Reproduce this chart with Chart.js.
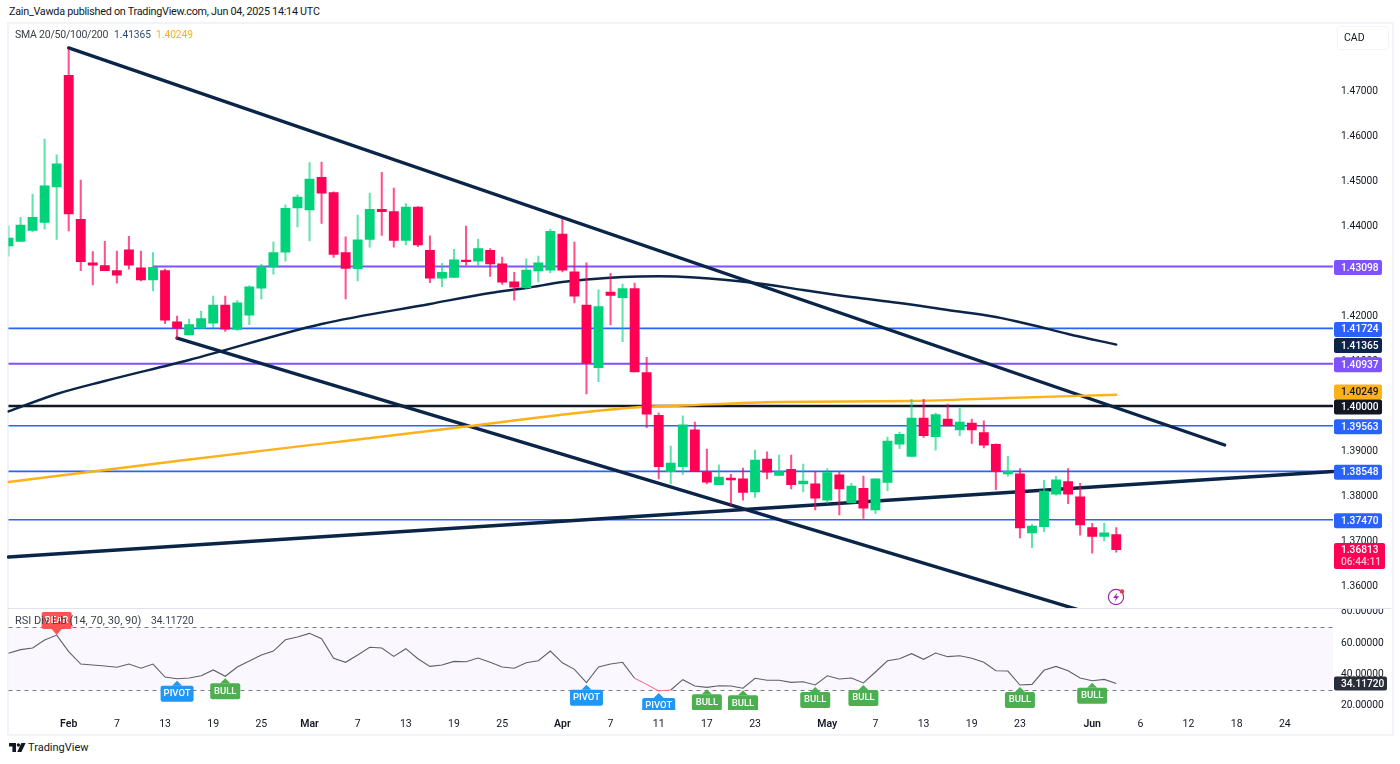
<!DOCTYPE html>
<html>
<head>
<meta charset="utf-8">
<script src="https://cdn.jsdelivr.net/npm/chart.js@4"></script>
<style>
html,body{margin:0;padding:0;background:#fff;width:1400px;height:764px;overflow:hidden;font-family:Roboto,sans-serif;color:#131722}
canvas{position:absolute;display:block}
.frame{position:absolute;left:7px;top:22px;width:1383px;height:710px;border:2px solid #f0f3fa;box-sizing:content-box}
.sep{position:absolute;left:8px;top:608px;width:1383px;height:1px;background:#e0e3eb}
.t{position:absolute;white-space:pre;font-size:10.5px;line-height:14px}
</style>
</head>
<body>
<div class="frame"></div>
<canvas id="price" style="left:0;top:23px"></canvas>
<canvas id="rsi" style="left:0;top:609px"></canvas>
<div class="sep"></div>
<div class="t" style="left:9px;top:5px;font-size:10.8px;letter-spacing:-.26px;color:#131722">Zain_Vawda published on TradingView.com, Jun 04, 2025 14:14 UTC</div>
<div class="t" style="left:15px;top:28px;letter-spacing:-.22px;color:#3b3f4a">SMA 20/50/100/200</div>
<div class="t" style="left:114px;top:28px;font-size:10.2px;color:#2b4a78">1.41365</div>
<div class="t" style="left:156px;top:28px;font-size:10.2px;color:#ffb11a">1.40249</div>
<div class="t" style="left:15px;top:614px;font-size:11px;color:#3b3f4a">RSI Div Lib (14, 70, 30, 90)</div>
<div class="t" style="left:151px;top:614px;font-size:10.2px;color:#3b3f4a">34.11720</div>
<div style="position:absolute;left:1337px;top:26px;width:50px;height:22px;border:1px solid #f0f3fa;border-radius:4px;box-sizing:content-box"></div>
<div class="t" style="left:1344px;top:31px">CAD</div>
<svg style="position:absolute;left:1107px;top:588px" width="20" height="20" viewBox="0 0 20 20">
  <circle cx="9" cy="9" r="7.6" fill="none" stroke="#9c27b0" stroke-width="1.2"/>
  <path d="M10.5 4.5 L6 10 L9 10 L7.5 13.8 L12.2 8.2 L9.2 8.2 Z" fill="#9c27b0"/>
  <circle cx="15" cy="3.4" r="2.2" fill="#f23645"/>
</svg>
<svg style="position:absolute;left:8px;top:742px" width="18" height="12" viewBox="0 0 18 12">
  <path d="M1 1 H8 V10 H4.4 V4.4 H1 Z" fill="#131722"/>
  <circle cx="10.4" cy="3" r="1.7" fill="#131722"/>
  <path d="M13.4 1 H17.6 L13.4 10 H9.2 Z" fill="#131722"/>
</svg>
<div class="t" style="left:28px;top:741px;font-size:11px">TradingView</div>
<script>
const dates = [
 "Jan 27","Jan 28","Jan 29","Jan 30","Jan 31",
 "Feb 3","Feb 4","Feb 5","Feb 6","Feb 7","Feb 10","Feb 11","Feb 12","Feb 13","Feb 14",
 "Feb 17","Feb 18","Feb 19","Feb 20","Feb 21","Feb 24","Feb 25","Feb 26","Feb 27","Feb 28",
 "Mar 3","Mar 4","Mar 5","Mar 6","Mar 7","Mar 10","Mar 11","Mar 12","Mar 13","Mar 14",
 "Mar 17","Mar 18","Mar 19","Mar 20","Mar 21","Mar 24","Mar 25","Mar 26","Mar 27","Mar 28",
 "Mar 31","Apr 1","Apr 2","Apr 3","Apr 4","Apr 7","Apr 8","Apr 9","Apr 10","Apr 11",
 "Apr 14","Apr 15","Apr 16","Apr 17","Apr 18","Apr 21","Apr 22","Apr 23","Apr 24","Apr 25",
 "Apr 28","Apr 29","Apr 30","May 1","May 2","May 5","May 6","May 7","May 8","May 9",
 "May 12","May 13","May 14","May 15","May 16","May 19","May 20","May 21","May 22","May 23",
 "May 26","May 27","May 28","May 29","May 30","Jun 2","Jun 3","Jun 4","Jun 5","Jun 6",
 "Jun 9","Jun 10","Jun 11","Jun 12","Jun 13","Jun 16","Jun 17","Jun 18","Jun 19","Jun 20",
 "Jun 23","Jun 24","Jun 25","Jun 26","Jun 27","Jun 30"];

const opens = [1.4356,1.4366,1.4390,1.4408,1.4487,1.4735,1.4415,1.4318,1.4312,1.4301,
 1.4347,1.4307,1.4280,1.4301,1.4187,1.4158,1.4173,1.4184,1.4224,1.4170,
 1.4202,1.4262,1.4309,1.4342,1.4440,1.4436,1.4508,1.4474,1.4341,1.4305,
 1.4370,1.4437,1.4432,1.4368,1.4442,1.4346,1.4284,1.4286,1.4324,1.4322,
 1.4346,1.4316,1.4276,1.4263,1.4300,1.4302,1.4382,1.4298,1.4224,1.4085,
 1.4253,1.4241,1.4261,1.4074,1.3979,1.3854,1.3865,1.3947,1.3853,1.3825,
 1.3840,1.3838,1.3809,1.3882,1.3846,1.3859,1.3827,1.3827,1.3791,1.3847,
 1.3785,1.3817,1.3769,1.3830,1.3915,1.3888,1.3973,1.3932,1.3971,1.3947,
 1.3962,1.3941,1.3915,1.3849,1.3849,1.3718,1.3732,1.3804,1.3832,1.3798,
 1.3730,1.3710,1.3714];
const highs = [1.4400,1.4419,1.4471,1.4593,1.4558,1.4793,1.4502,1.4343,1.4366,1.4344,
 1.4377,1.4344,1.4341,1.4304,1.4200,1.4193,1.4211,1.4244,1.4244,1.4234,
 1.4267,1.4315,1.4364,1.4447,1.4469,1.4541,1.4542,1.4476,1.4376,1.4424,
 1.4473,1.4519,1.4484,1.4450,1.4443,1.4378,1.4317,1.4348,1.4400,1.4371,
 1.4350,1.4331,1.4297,1.4327,1.4333,1.4393,1.4415,1.4364,1.4318,1.4258,
 1.4295,1.4271,1.4273,1.4108,1.3984,1.3911,1.3978,1.3964,1.3904,1.3869,
 1.3848,1.3862,1.3902,1.3898,1.3891,1.3891,1.3871,1.3854,1.3861,1.3853,
 1.3828,1.3844,1.3838,1.3931,1.3942,1.4015,1.4015,1.3984,1.4004,1.3995,
 1.3971,1.3967,1.3916,1.3888,1.3861,1.3737,1.3835,1.3844,1.3861,1.3828,
 1.3739,1.3740,1.3730];
const lows = [1.4333,1.4366,1.4387,1.4393,1.4370,1.4389,1.4301,1.4269,1.4301,1.4273,
 1.4304,1.4278,1.4256,1.4183,1.4150,1.4158,1.4173,1.4173,1.4166,1.4168,
 1.4181,1.4238,1.4293,1.4322,1.4398,1.4367,1.4406,1.4330,1.4238,1.4278,
 1.4353,1.4379,1.4353,1.4358,1.4354,1.4274,1.4265,1.4286,1.4313,1.4313,
 1.4288,1.4270,1.4235,1.4260,1.4276,1.4296,1.4298,1.4229,1.4027,1.4054,
 1.4180,1.4143,1.4076,1.3952,1.3838,1.3827,1.3848,1.3854,1.3827,1.3825,
 1.3780,1.3791,1.3797,1.3838,1.3846,1.3816,1.3809,1.3769,1.3784,1.3758,
 1.3785,1.3750,1.3761,1.3812,1.3905,1.3888,1.3930,1.3902,1.3956,1.3934,
 1.3917,1.3907,1.3814,1.3844,1.3707,1.3685,1.3721,1.3802,1.3783,1.3713,
 1.3673,1.3700,1.3675];
const closes = [1.4373,1.4402,1.4419,1.4489,1.4538,1.4427,1.4321,1.4313,1.4301,1.4291,
 1.4313,1.4280,1.4308,1.4191,1.4173,1.4181,1.4194,1.4224,1.4171,1.4229,
 1.4265,1.4309,1.4341,1.4439,1.4464,1.4504,1.4473,1.4337,1.4306,1.4369,
 1.4437,1.4432,1.4368,1.4442,1.4358,1.4284,1.4297,1.4325,1.4321,1.4350,
 1.4316,1.4275,1.4264,1.4302,1.4318,1.4388,1.4302,1.4244,1.4095,1.4221,
 1.4246,1.4261,1.4076,1.3982,1.3865,1.3873,1.3958,1.3854,1.3831,1.3842,
 1.3836,1.3808,1.3880,1.3853,1.3854,1.3825,1.3833,1.3795,1.3852,1.3816,
 1.3822,1.3773,1.3838,1.3922,1.3937,1.3973,1.3934,1.3981,1.3956,1.3964,
 1.3947,1.3913,1.3855,1.3855,1.3729,1.3733,1.3811,1.3836,1.3804,1.3736,
 1.3710,1.3718,1.3681];

const sma100Bars = [0,4,8,15,26,35,40,43,46,48,51,54,57,62,66,70,74,78,82,85,88,92];
const sma100Vals = [1.39878,1.40267,1.40556,1.41022,1.41822,1.42267,1.42511,1.42622,1.42756,1.42811,1.42867,1.42882,1.42856,1.42733,1.42578,1.42422,1.42289,1.42133,1.41978,1.41800,1.41600,1.41365];
const sma200Bars = [0,14,25,28,38,47,52,56,64,75,83,92];
const sma200Vals = [1.38311,1.38778,1.39130,1.39222,1.39544,1.39838,1.39967,1.40011,1.40089,1.40111,1.40178,1.40249];

const trendBars = [[5,101],[14,92],[0,110]];
const trendVals = [[1.47956,1.39133],[1.41511,1.35218],[1.36644,1.38544]];

const levelVals   = [1.43098,1.41724,1.40937,1.40000,1.39563,1.38548,1.37470];
const levelStart  = [12,0,0,0,0,0,0];
const levelColors = ["#7e52ff","#2962ff","#7e52ff","#131722","#2962ff","#2962ff","#2962ff"];
const levelWidths = [2,1.6,2,2.4,1.5,1.8,1.5];

const priceTicks = [1.36,1.37,1.38,1.39,1.40,1.41,1.42,1.43,1.44,1.45,1.46,1.47];
const tagVals   = [1.43098,1.41724,1.41365,1.40937,1.40249,1.40000,1.39563,1.38548,1.37470];
const tagFills  = ["#7e52ff","#2962ff","#0a2547","#7e52ff","#ffb11a","#131722","#2962ff","#2962ff","#2962ff"];
const tagInks   = ["#fff","#fff","#fff","#fff","#131722","#fff","#fff","#fff","#fff"];
const lastClose = "1.36813";
const countdown = "06:44:11";

const rsiVals = [53.5,55.8,56.8,61.9,65.1,54.5,46.6,46.0,45.3,44.5,46.6,43.9,46.6,38.3,37.2,37.7,39.1,42.8,38.8,44.7,
 48.5,52.4,54.9,62.1,63.9,66.2,62.8,50.3,47.7,52.4,57.3,56.8,51.5,56.4,50.0,45.1,46.0,48.3,48.1,50.4,
 47.7,44.7,43.9,47.4,48.7,54.9,47.4,43.2,34.7,44.7,46.6,47.7,37.5,33.6,29.4,30.0,36.6,32.6,31.7,32.7,
 32.6,31.1,37.5,36.2,36.2,34.9,35.3,33.2,39.1,37.0,37.7,34.5,41.5,48.7,50.0,53.2,49.6,53.6,51.3,51.9,
 50.3,47.7,42.3,42.1,33.2,33.6,42.6,45.1,42.3,37.7,35.9,36.8,34.1172];
const rsiTicks = [20,40,60,80];
const rsiBands = [70,30];
const signalDates = ["Jan 31","Feb 14","Feb 20","Apr 3","Apr 11","Apr 17","Apr 22","Apr 30","May 6","May 23","Jun 2"];
const signalTexts = ["BEAR","PIVOT","BULL","PIVOT","PIVOT","BULL","BULL","BULL","BULL","BULL","BULL"];

const tickDates = ["Feb 3","Feb 7","Feb 13","Feb 19","Feb 25","Mar 3","Mar 7","Mar 13","Mar 19","Mar 25","Apr 1","Apr 7","Apr 11","Apr 17","Apr 23","May 1","May 7","May 13","May 19","May 23","Jun 2","Jun 6","Jun 12","Jun 18","Jun 24"];
const tickTexts = ["Feb","7","13","19","25","Mar","7","13","19","25","Apr","7","11","17","23","May","7","13","19","23","Jun","6","12","18","24"];

const GREEN="#00d27a", RED="#ff0055", GREEN_W="rgba(0,210,122,.62)", RED_W="rgba(255,0,85,.68)";
const FONT="Roboto, sans-serif";
Chart.defaults.font.family=FONT;
Chart.defaults.color="#131722";

function sizeCanvas(id,h){const c=document.getElementById(id);c.style.width="1400px";c.style.height=h+"px";c.width=1400;c.height=h;return c;}
function tag(ctx,x,y,w,h,fill){ctx.fillStyle=fill;ctx.beginPath();ctx.roundRect(x,y,w,h,2);ctx.fill();}
function noPad(s){s.paddingTop=0;s.paddingBottom=0;s.paddingLeft=0;s.paddingRight=0;if(s._margins){s._margins.top=0;s._margins.bottom=0;s._margins.left=0;s._margins.right=0;}}

const isUp=i=>closes[i]>=opens[i];
const line=(bars,vals,color,width,smooth)=>({type:"line",data:bars.map((b,k)=>({x:dates[b],y:vals[k]})),borderColor:color,borderWidth:width,pointRadius:0,tension:0,cubicInterpolationMode:smooth?"monotone":"default",order:5,borderCapStyle:"round"});

const priceTags={id:"priceTags",afterDraw(ch){
  const c=ch.ctx,y=ch.scales.y;
  c.save();c.textBaseline="middle";c.textAlign="left";
  const spots=tagVals.map(v=>y.getPixelForValue(v)+1);
  for(let k=spots.length-2;k>=0;k--){ if(spots[k+1]-spots[k]<15) spots[k]=spots[k+1]-15; }
  tagVals.forEach((v,k)=>{
    const py=spots[k];
    tag(c,1334,py-7.5,48,15,tagFills[k]);
    c.fillStyle=tagInks[k];c.font="500 10.2px "+FONT;c.fillText(v.toFixed(5),1341,py+.5);
  });
  const py=y.getPixelForValue(+lastClose)+.5;
  tag(c,1334,py-7,51,26,RED);
  c.fillStyle="#fff";c.font="500 10.2px "+FONT;c.fillText(lastClose,1341,py+.5);
  c.fillStyle="#ffc2d6";c.fillText(countdown,1341,py+12.5);
  c.restore();
}};

new Chart(sizeCanvas("price",585),{
  type:"bar",
  plugins:[priceTags],
  data:{labels:dates,datasets:[
    {type:"bar",data:lows.map((l,i)=>[l,highs[i]]),barThickness:1.4,grouped:false,order:2,
      backgroundColor:c=>isUp(c.dataIndex)?GREEN_W:RED_W},
    {type:"bar",data:opens.map((o,i)=>[o,closes[i]]),barThickness:9.2,grouped:false,order:1,
      backgroundColor:c=>isUp(c.dataIndex)?GREEN:RED},
    ...levelVals.map((v,k)=>({type:"line",data:[{x:dates[levelStart[k]],y:v},{x:dates[110],y:v}],borderColor:levelColors[k],borderWidth:levelWidths[k],pointRadius:0,order:6})),
    line(sma100Bars,sma100Vals,"#0a2547",2.4,true),
    line(sma200Bars,sma200Vals,"#ffb11a",2.4,true),
    ...trendBars.map((b,k)=>line(b,trendVals[k],"#0a2547",3.4,false))
  ]},
  options:{responsive:false,animation:false,devicePixelRatio:1,
    layout:{padding:{left:8.5,right:0,top:0,bottom:0}},
    plugins:{legend:{display:false},tooltip:{enabled:false}},
    scales:{
      x:{type:"category",offset:false,display:false,grid:{display:false}},
      y:{position:"right",min:1.355111,max:1.485111,grid:{display:false},border:{display:false},
        afterBuildTicks:s=>{s.ticks=priceTicks.map(v=>({value:v}));},
        afterFit:s=>{s.width=67;noPad(s);},
        ticks:{padding:0,font:{size:10.2},color:"#131722",callback:v=>(+v).toFixed(5)}}
    }}
});

const rsiDecor={id:"rsiDecor",
  beforeDatasetsDraw(ch){
    const c=ch.ctx,a=ch.chartArea,y=ch.scales.y;
    const t=y.getPixelForValue(rsiBands[0]),b=y.getPixelForValue(rsiBands[1]);
    c.save();c.fillStyle="#fbf7fe";c.fillRect(a.left,t,a.right-a.left,b-t);
    c.strokeStyle="#787b86";c.lineWidth=1;c.setLineDash([4,4]);
    [t,b].forEach(p=>{c.beginPath();c.moveTo(a.left,Math.round(p)+.5);c.lineTo(a.right,Math.round(p)+.5);c.stroke();});
    c.restore();
  },
  afterDatasetsDraw(ch){
    const c=ch.ctx,a=ch.chartArea,x=ch.scales.x,y=ch.scales.y;
    c.save();c.beginPath();c.rect(0,0,1400,a.bottom);c.clip();
    c.textAlign="center";c.textBaseline="middle";c.font="500 9.5px "+FONT;
    signalDates.forEach((d,k)=>{
      const i=dates.indexOf(d),px=x.getPixelForValue(i),py=y.getPixelForValue(rsiVals[i]),txt=signalTexts[k];
      const w=txt==="BULL"?30:33,fill=txt==="BULL"?"#4caf50":txt==="PIVOT"?"#2196f3":"#ff5252";
      c.fillStyle=fill;c.beginPath();
      if(txt==="BEAR"){
        c.moveTo(px,py);c.lineTo(px-5,py-6);c.lineTo(px+5,py-6);c.closePath();c.fill();
        tag(c,px-15,py-23,30,17,fill);c.fillStyle="#fff";c.fillText(txt,px,py-14.5);
      }else{
        const tip=py+2;
        c.moveTo(px,tip);c.lineTo(px-5,tip+5);c.lineTo(px+5,tip+5);c.closePath();c.fill();
        tag(c,px-w/2,tip+5,w,16,fill);c.fillStyle="#fff";c.fillText(txt,px,tip+13);
      }
    });
    c.restore();
  },
  afterDraw(ch){
    const c=ch.ctx,y=ch.scales.y,py=y.getPixelForValue(rsiVals[92]);
    c.save();tag(c,1334,py-7,53,14,"#2a2e39");
    c.fillStyle="#fff";c.font="500 10.2px "+FONT;c.textAlign="left";c.textBaseline="middle";
    c.fillText(rsiVals[92].toFixed(5),1341,py+.5);c.restore();
  }
};

new Chart(sizeCanvas("rsi",124),{
  type:"line",
  plugins:[rsiDecor],
  data:{labels:dates,datasets:[{data:rsiVals,borderColor:"#5d606b",borderWidth:1.1,pointRadius:0,tension:0,
    segment:{borderColor:c=>(c.p0DataIndex>=52&&c.p0DataIndex<=54)?"#ff6b81":undefined}}]},
  options:{responsive:false,animation:false,devicePixelRatio:1,
    layout:{padding:{left:8.5,right:0,top:0,bottom:0}},
    plugins:{legend:{display:false},tooltip:{enabled:false}},
    scales:{
      x:{type:"category",offset:false,grid:{display:false},border:{display:false},
        afterFit:s=>{s.height=23;noPad(s);},
        ticks:{autoSkip:false,maxRotation:0,minRotation:0,padding:0,color:"#131722",
          font:c=>({size:10.5,weight:(c.tick&&/[A-Z]/.test(c.tick.label||""))?"600":"400"}),
          callback:v=>{const k=tickDates.indexOf(dates[v]);return k<0?null:tickTexts[k];}}},
      y:{position:"right",min:17.22,max:81.76,grid:{display:false},border:{display:false},
        afterBuildTicks:s=>{s.ticks=rsiTicks.map(v=>({value:v}));},
        afterFit:s=>{s.width=67;noPad(s);},
        ticks:{padding:0,font:{size:10.2},color:"#131722",callback:v=>(+v).toFixed(5)}}
    }}
});
</script>
</body>
</html>
